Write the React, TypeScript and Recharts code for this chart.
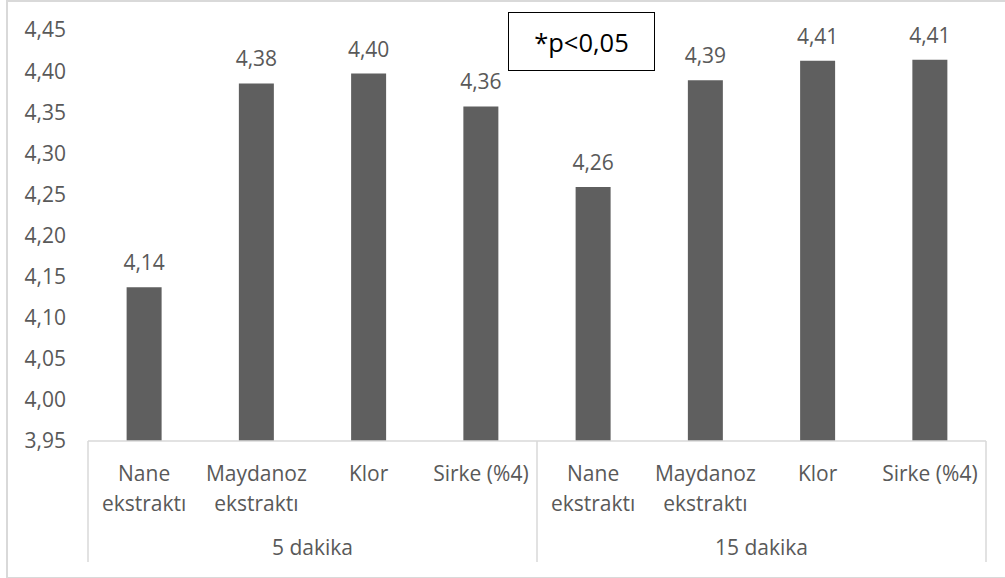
import React from "react";
import { BarChart, Bar, XAxis, YAxis, LabelList } from "recharts";

const categories = ["Nane\nekstraktı", "Maydanoz\nekstraktı", "Klor", "Sirke (%4)"];
const groups = ["5 dakika", "15 dakika"];
const values5 = [4.137, 4.385, 4.397, 4.357];
const values15 = [4.259, 4.389, 4.4125, 4.4138];
const yTicks = [3.95, 4.0, 4.05, 4.1, 4.15, 4.2, 4.25, 4.3, 4.35, 4.4, 4.45];
const noteText = "*p<0,05";

const groupValues = [values5, values15];
const data = groups.flatMap((g, gi) =>
  categories.map((c, ci) => ({
    key: `${gi}-${ci}`,
    label: c,
    group: g,
    value: groupValues[gi][ci],
  }))
);

const FONT = "'Open Sans', sans-serif";
const TEXT = "#595959";
const LINE = "#d9d9d9";
const FS = 21;

const fmt = (v: number) => v.toFixed(2).replace(".", ",");

const CatTick = (props: any) => {
  const { x, y, index, width } = props;
  const n = data.length;
  const band = width / n;
  const d = data[index];
  if (!d) return null;
  const lines = d.label.split("\n");
  const perGroup = categories.length;
  const pos = index % perGroup;
  const els: any[] = [];
  lines.forEach((ln: string, i: number) => {
    els.push(
      <text key={"l" + i} x={x} y={y + 40 + i * 30} textAnchor="middle" fill={TEXT} fontSize={FS} fontFamily={FONT}>
        {ln}
      </text>
    );
  });
  if (pos === 0) {
    els.push(<line key="s0" x1={x - band / 2} x2={x - band / 2} y1={y} y2={y + 121} stroke={LINE} strokeWidth={1.5} />);
    els.push(
      <text key="g" x={x + ((perGroup - 1) / 2) * band} y={y + 114} textAnchor="middle" fill={TEXT} fontSize={FS} fontFamily={FONT}>
        {d.group}
      </text>
    );
  }
  if (index === n - 1) {
    els.push(<line key="s1" x1={x + band / 2} x2={x + band / 2} y1={y} y2={y + 121} stroke={LINE} strokeWidth={1.5} />);
  }
  return <g>{els}</g>;
};

export default function App() {
  return (
    <div style={{ position: "absolute", left: 0, top: 0, width: 1005, height: 578, overflow: "hidden", background: "#fff" }}>
      <div
        style={{
          position: "absolute",
          left: 6,
          top: 0,
          width: 1010,
          height: 575,
          borderLeft: `2px solid ${LINE}`,
          borderTop: `2px solid ${LINE}`,
          borderBottom: `2px solid ${LINE}`,
        }}
      />
      <div style={{ position: "absolute", left: 0, top: 0 }}>
        <BarChart width={1005} height={578} data={data} margin={{ top: 30, right: 19, bottom: 0, left: 0 }} barCategoryGap="34.4%">
          <YAxis
            width={88}
            domain={[3.95, 4.45]}
            ticks={yTicks}
            allowDataOverflow
            axisLine={false}
            tickLine={false}
            tickSize={0}
            tickMargin={22}
            tickFormatter={fmt}
            tick={{ fill: TEXT, fontSize: FS, fontFamily: FONT }}
          />
          <XAxis
            dataKey="key"
            height={137}
            interval={0}
            tickLine={false}
            tickSize={0}
            tickMargin={0}
            axisLine={{ stroke: LINE, strokeWidth: 1.5 }}
            tick={<CatTick />}
          />
          <Bar dataKey="value" fill="#5f5f5f" isAnimationActive={false}>
            <LabelList dataKey="value" position="top" offset={17} formatter={fmt} fill={TEXT} fontSize={FS} fontFamily={FONT} />
          </Bar>
        </BarChart>
      </div>
      <div
        style={{
          position: "absolute",
          left: 508,
          top: 12,
          width: 147,
          height: 59,
          boxSizing: "border-box",
          border: "1.5px solid #000",
          display: "flex",
          alignItems: "center",
          justifyContent: "center",
          fontFamily: FONT,
          fontSize: 25.5,
          color: "#000",
          background: "#fff",
        }}
      >
        {noteText}
      </div>
    </div>
  );
}
